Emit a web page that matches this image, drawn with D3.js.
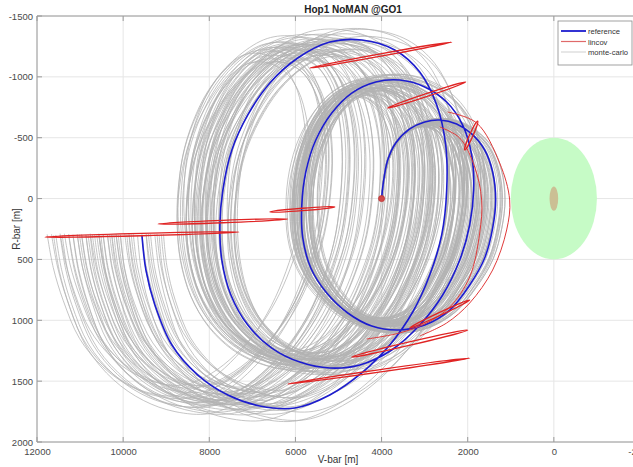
<!DOCTYPE html>
<html>
<head>
<meta charset="utf-8">
<script src="https://cdn.jsdelivr.net/npm/d3@7"></script>
<style>
  body { margin: 0; background: #fff; }
  text { font-family: "Liberation Sans", Arial, Helvetica, sans-serif; }
</style>
</head>
<body>
<svg id="chart" width="633" height="467"></svg>
<script>
// ---- axes ----
const xTicks = [12000, 10000, 8000, 6000, 4000, 2000, 0, -2000];
const yTicks = [-1500, -1000, -500, 0, 500, 1000, 1500, 2000];

// ---- reference trajectory (V-bar, R-bar in metres) ----
const refV = [4000, 3950, 3857, 3671, 3346, 2998, 2650, 2256, 1908, 1606, 1421, 1351, 1421, 1606, 1954, 2418, 2998, 3625, 4228, 4785, 5272, 5643, 5829, 5852, 5759, 5527, 5156, 4692, 4135, 3578, 2998, 2488, 2117, 1908, 1862, 1954, 2186, 2581, 3114, 3764, 4506, 5202, 5898, 6548, 7105, 7499, 7708, 7754, 7685, 7476, 7105, 6594, 5945, 5202, 4460, 3694, 3114, 2720, 2511, 2488, 2604, 2882, 3277, 3810, 4460, 5202, 6014, 6826, 7569, 8265, 8868, 9262, 9471, 9564];
const refR = [0, -153, -317, -457, -572, -629, -645, -613, -531, -399, -218, 12, 242, 488, 710, 916, 1039, 1080, 1047, 940, 776, 570, 324, 53, -218, -481, -703, -867, -958, -974, -917, -793, -604, -358, -70, 217, 505, 792, 1039, 1244, 1367, 1392, 1343, 1228, 1039, 792, 505, 217, -70, -399, -687, -950, -1155, -1286, -1303, -1221, -1040, -769, -440, -70, 299, 628, 932, 1203, 1433, 1614, 1721, 1704, 1614, 1450, 1203, 874, 587, 299];

// drifting loop centre of the reference, first and last loop (V, R in metres)
const loopCentreStart = [3300, 210];
const loopCentreEnd = [6300, 210];

// ---- monte-carlo dispersions per run ----
// loop size factor, along-track drift at end (m), radial gain
const mcScale = [-0.40, -0.35, -0.30, -0.25, -0.20, -0.15, -0.10, -0.05, 0.00, 0.05, 0.10, -0.38, -0.32, -0.27, -0.22, -0.17, -0.12, -0.07, -0.02, 0.03, 0.08, -0.36, -0.29, -0.24, -0.19, -0.14, -0.09, -0.04, 0.01, 0.06, -0.33, -0.28, -0.23, -0.18, -0.13, -0.08, -0.03, 0.02, 0.07, -0.37, -0.31, -0.26, -0.21, -0.16, -0.11, -0.06, -0.01, 0.04, 0.09, -0.34, -0.21, -0.15, -0.06, 0.00, -0.27, -0.12, -0.19, -0.09, 0.04, -0.22];
const mcDrift = [1606, 2342, 679, 2616, 1253, 2490, -174, 1063, 1500, -63, 374, 2240, 3144, 1281, 2018, 355, 2092, 728, 1165, -498, 1139, 1775, 2547, 783, 1520, 2357, 494, 1431, 767, -296, 2977, 1614, 2251, 238, 1424, 2311, 448, 1135, 272, 1108, 1812, 2549, 935, 1672, -91, 1796, 683, 1719, 6, 2510, 2885, 1490, 196, 550, 1931, 1142, 2070, 1544, 819, 568];
const mcGain = [0.03, -0.02, 0.05, -0.04, 0.01, 0.04, -0.03, 0.02, -0.05, 0.06, 0.00, -0.01, 0.03, -0.04, 0.05, -0.02, 0.02, 0.04, -0.03, 0.01, -0.05, 0.03, 0.06, -0.02, 0.00, 0.04, -0.04, 0.02, -0.01, 0.05, -0.03, 0.01, 0.04, -0.05, 0.02, 0.06, -0.02, 0.03, -0.04, 0.01, 0.05, -0.01, 0.00, 0.03, -0.03, 0.04, -0.02, 0.02, -0.04, 0.05, 0.01, -0.03, 0.03, -0.01, 0.04, -0.05, 0.02, 0.00, 0.06, -0.02];

// ---- lincov covariance ellipses: major axis end points (m) and minor semi-axis (m) ----
const covV1 = [5666, 3857, 1769, 11814, 9193, 6594, 6177, 4692, 3346];
const covR1 = [-1073, -744, -637, 316, 209, 110, 1523, 1302, 1063];
const covV2 = [2372, 2047, 2070, 7314, 6177, 5086, 1954, 2001, 1954];
const covR2 = [-1286, -958, -399, 275, 168, 69, 1310, 1080, 833];
const covMinor = [10, 12, 14, 10, 10, 10, 10, 14, 12];

// ---- lincov dispersion boundary arcs ----
const arcOuterV = [2465, 1792, 1258, 1026, 1096, 1421, 1954, 2488, 3114];
const arcOuterR = [-711, -621, -292, 12, 258, 587, 858, 1022, 1129];
const arcInnerV = [2650, 2186, 1838, 1676, 1722, 1954, 2418, 2952, 3578, 4344];
const arcInnerR = [-588, -498, -259, 12, 283, 644, 891, 1022, 1104, 1154];

// ---- target keep-out zones: [semi-axis V, semi-axis R] ----
const approachEllipse = [1000, 500];
const keepOutSphere = [100, 100];
const initialCov = [70, 25];

const legendItems = ["reference", "lincov", "monte-carlo"];

// ---- layout ----
const svg = d3.select("#chart");
const L = 37, R = 640, T = 16, B = 442;
const x = d3.scaleLinear().domain([12000, -2000]).range([L, R]);
const y = d3.scaleLinear().domain([-1500, 2000]).range([T, B]);

svg.append("defs").append("clipPath").attr("id", "plotClip")
  .append("rect").attr("x", L).attr("y", T).attr("width", R - L).attr("height", B - T);

// grid
const grid = svg.append("g");
grid.selectAll("line.gx").data(xTicks).join("line")
  .attr("x1", d => x(d)).attr("x2", d => x(d)).attr("y1", T).attr("y2", B)
  .attr("stroke", "#e6e6e6").attr("stroke-width", 1);
grid.selectAll("line.gy").data(yTicks).join("line")
  .attr("x1", L).attr("x2", R).attr("y1", d => y(d)).attr("y2", d => y(d))
  .attr("stroke", "#e6e6e6").attr("stroke-width", 1);

const plot = svg.append("g").attr("clip-path", "url(#plotClip)");

// target zones
plot.append("ellipse")
  .attr("cx", x(0)).attr("cy", y(0))
  .attr("rx", Math.abs(x(approachEllipse[0]) - x(0)))
  .attr("ry", Math.abs(y(approachEllipse[1]) - y(0)))
  .attr("fill", "#c6fbc6");
plot.append("ellipse")
  .attr("cx", x(0)).attr("cy", y(0))
  .attr("rx", Math.abs(x(keepOutSphere[0]) - x(0)))
  .attr("ry", Math.abs(y(keepOutSphere[1]) - y(0)))
  .attr("fill", "#cbbf94");

// monte-carlo runs: all leave the same initial state; each run then scales the
// reference loops about the drifting loop centre and accumulates its own drift
const line = d3.line().x(d => x(d[0])).y(d => y(d[1])).curve(d3.curveCatmullRom.alpha(0.5));
const n = refV.length;
const runs = mcDrift.map((dv, i) => refV.map((v, k) => {
  const s = k / (n - 1);
  const w = Math.min(1, s / 0.12);
  const cv = loopCentreStart[0] + (loopCentreEnd[0] - loopCentreStart[0]) * s;
  const cr = loopCentreStart[1] + (loopCentreEnd[1] - loopCentreStart[1]) * s;
  const q = mcScale[i] * w;
  return [cv + (v - cv) * (1 + q) + dv * Math.pow(s, 1.5),
          cr + (refR[k] - cr) * (1 + 0.3 * q + mcGain[i] * s) + (1 - w) * 0.3 * mcScale[i] * cr];
}));
plot.append("g").selectAll("path").data(runs).join("path")
  .attr("d", line).attr("fill", "none")
  .attr("stroke", "#b2b2b2").attr("stroke-width", 0.75);

// reference
const refPts = refV.map((v, k) => [v, refR[k]]);
plot.append("path").datum(refPts).attr("d", line)
  .attr("fill", "none").attr("stroke", "#1c1ccf").attr("stroke-width", 1.6);

// lincov arcs
const arcs = [arcOuterV.map((v, k) => [v, arcOuterR[k]]), arcInnerV.map((v, k) => [v, arcInnerR[k]])];
plot.append("g").selectAll("path").data(arcs).join("path")
  .attr("d", line).attr("fill", "none").attr("stroke", "#e03a3a").attr("stroke-width", 1);

// lincov ellipses
const ryPerM = (B - T) / 3500;
const ell = covV1.map((v, i) => {
  const p1 = [x(v), y(covR1[i])], p2 = [x(covV2[i]), y(covR2[i])];
  const cx = (p1[0] + p2[0]) / 2, cy = (p1[1] + p2[1]) / 2;
  const a = Math.hypot(p2[0] - p1[0], p2[1] - p1[1]) / 2;
  const ang = Math.atan2(p2[1] - p1[1], p2[0] - p1[0]) * 180 / Math.PI;
  return { cx, cy, a, b: covMinor[i] * ryPerM, ang };
});
plot.append("g").selectAll("ellipse").data(ell).join("ellipse")
  .attr("transform", d => `translate(${d.cx},${d.cy}) rotate(${d.ang})`)
  .attr("rx", d => d.a).attr("ry", d => d.b)
  .attr("fill", "none").attr("stroke", "#e02424").attr("stroke-width", 1.3);

// initial covariance
plot.append("ellipse")
  .attr("cx", x(refV[0])).attr("cy", y(refR[0]))
  .attr("rx", Math.abs(x(initialCov[0]) - x(0)))
  .attr("ry", Math.abs(y(initialCov[1]) - y(0)))
  .attr("fill", "#d24a4a").attr("stroke", "#c03030").attr("stroke-width", 0.8);

// axes box
const axisCol = "#9a9a9a";
svg.append("line").attr("x1", L).attr("x2", 633).attr("y1", T).attr("y2", T).attr("stroke", axisCol);
svg.append("line").attr("x1", L).attr("x2", 633).attr("y1", B).attr("y2", B).attr("stroke", axisCol);
svg.append("line").attr("x1", L).attr("x2", L).attr("y1", T).attr("y2", B).attr("stroke", axisCol);

const fmt = d => String(d);
const xAxis = d3.axisBottom(x).tickValues(xTicks).tickFormat(fmt).tickSize(0).tickPadding(6);
const gx = svg.append("g").attr("transform", `translate(0,${B})`).call(xAxis);
gx.select(".domain").remove();
gx.selectAll("text").attr("font-size", 9.5).attr("fill", "#4a4a4a")
  .attr("font-family", "Liberation Sans, Arial, sans-serif");
const yAxis = d3.axisLeft(y).tickValues(yTicks).tickFormat(fmt).tickSize(0).tickPadding(4);
const gy = svg.append("g").attr("transform", `translate(${L},0)`).call(yAxis);
gy.select(".domain").remove();
gy.selectAll("text").attr("font-size", 9.5).attr("fill", "#4a4a4a")
  .attr("font-family", "Liberation Sans, Arial, sans-serif");

// inward tick marks
svg.append("g").selectAll("line").data(xTicks).join("line")
  .attr("x1", d => x(d)).attr("x2", d => x(d)).attr("y1", B).attr("y2", B - 5).attr("stroke", axisCol);
svg.append("g").selectAll("line").data(xTicks).join("line")
  .attr("x1", d => x(d)).attr("x2", d => x(d)).attr("y1", T).attr("y2", T + 5).attr("stroke", axisCol);
svg.append("g").selectAll("line").data(yTicks).join("line")
  .attr("x1", L).attr("x2", L + 5).attr("y1", d => y(d)).attr("y2", d => y(d)).attr("stroke", axisCol);

// labels
svg.append("text").attr("x", 353).attr("y", 13).attr("text-anchor", "middle")
  .attr("font-size", 10).attr("font-weight", "bold").attr("fill", "#222").text("Hop1 NoMAN @GO1");
svg.append("text").attr("x", 338).attr("y", 463).attr("text-anchor", "middle")
  .attr("font-size", 10).attr("fill", "#333").text("V-bar [m]");
svg.append("text").attr("transform", "translate(20,229) rotate(-90)").attr("text-anchor", "middle")
  .attr("font-size", 10).attr("fill", "#333").text("R-bar [m]");

// legend
const lg = svg.append("g");
lg.append("rect").attr("x", 558).attr("y", 21).attr("width", 74).attr("height", 44)
  .attr("fill", "#fff").attr("stroke", "#8a8a8a").attr("stroke-width", 0.8);
const legCol = ["#1c1ccf", "#e06a6a", "#cfcfcf"];
const legW = [1.8, 1.2, 1];
legendItems.forEach((t, i) => {
  const yy = 31 + i * 10.5;
  lg.append("line").attr("x1", 561).attr("x2", 586).attr("y1", yy).attr("y2", yy)
    .attr("stroke", legCol[i]).attr("stroke-width", legW[i]);
  lg.append("text").attr("x", 588).attr("y", yy + 3).attr("font-size", 7.6).attr("fill", "#333").text(t);
});
</script>
</body>
</html>
